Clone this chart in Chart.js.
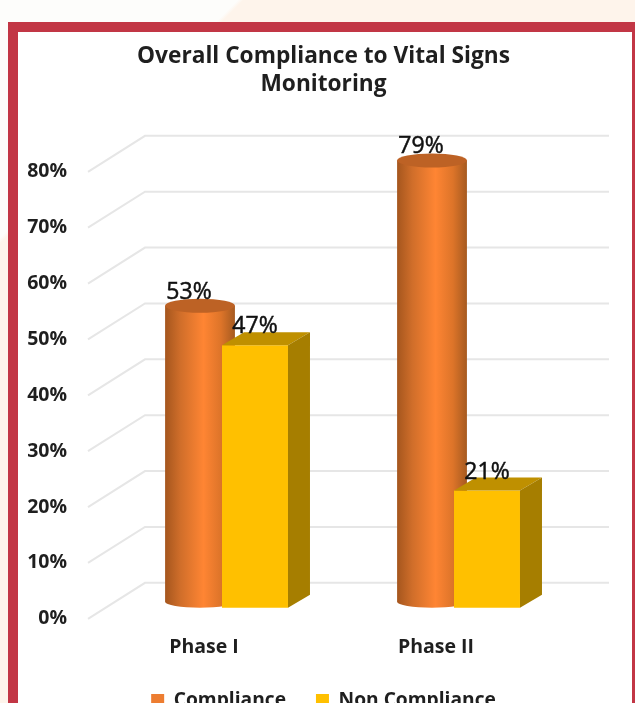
<!DOCTYPE html>
<html><head><meta charset="utf-8">
<script src="https://cdn.jsdelivr.net/npm/chart.js@4"></script>
<style>
html,body{margin:0;padding:0;width:635px;height:703px;overflow:hidden;
 background:linear-gradient(135deg,#fdfdfb 17.8%,#fef4eb 18.2%);}
#panel{position:absolute;left:8px;top:22px;width:614px;height:720px;border:10px solid #C23645;background:#fff;}
#c{position:absolute;left:0;top:0;filter:blur(0.6px);}
</style></head><body>
<div id="panel"><canvas id="c" width="611" height="688"></canvas></div>
<script>
const categories = ['Phase I', 'Phase II'];
const compliance = [53, 79];
const nonCompliance = [47, 21];
const titleLines = ['Overall Compliance to Vital Signs', 'Monitoring'];
const legendColors = ['#ED7D31', '#FFC000'];
const FONT = '"Open Sans", "Noto Sans", sans-serif';
const TEXT = '#1f1f1f';
const depth = {x: 57, y: -36};
const catPct = 0.474;
const shifts = [{x: 23.5, y: -17}, {x: 23.5, y: -11}];
const labelOff = [{x: -11, y: -13.5}, {x: 0, y: -18.5}];

function cylGrad(ctx, cx, half) {
  const g = ctx.createLinearGradient(cx - half, 0, cx + half, 0);
  g.addColorStop(0, '#A5561E');
  g.addColorStop(0.22, '#D06E2A');
  g.addColorStop(0.55, '#FF8533');
  g.addColorStop(0.8, '#DD7429');
  g.addColorStop(1, '#A65A20');
  return g;
}
const cylinderFill = c => {
  if (c.type !== 'data') return legendColors[0];
  const x = c.chart.scales.x;
  const step = x.getPixelForTick(1) - x.getPixelForTick(0);
  const seg = step * catPct / 2;
  return cylGrad(c.chart.ctx, x.getPixelForTick(c.dataIndex) - seg / 2, seg * 1.27 / 2);
};

function drawDatasetShifted(chart, index) {
  const {ctx} = chart;
  const meta = chart.getDatasetMeta(index);
  const s = shifts[index];
  ctx.save();
  ctx.translate(s.x, s.y);
  if (index === 0) {
    meta.data.forEach(el => {
      ctx.fillStyle = cylGrad(ctx, el.x, el.width / 2);
      ctx.beginPath();
      ctx.ellipse(el.x, el.base, el.width / 2, 6, 0, 0, Math.PI * 2);
      ctx.fill();
    });
  }
  meta.controller.draw();
  meta.data.forEach(el => {
    const l = el.x - el.width / 2, r = el.x + el.width / 2;
    if (index === 0) {
      ctx.fillStyle = '#BD6225';
      ctx.beginPath();
      ctx.ellipse(el.x, el.y, el.width / 2, 7, 0, 0, Math.PI * 2);
      ctx.fill();
    } else {
      const dx = 22, dy = -13;
      ctx.fillStyle = '#BF9000';
      ctx.beginPath();
      ctx.moveTo(l, el.y); ctx.lineTo(r, el.y);
      ctx.lineTo(r + dx, el.y + dy); ctx.lineTo(l + dx, el.y + dy);
      ctx.closePath(); ctx.fill();
      ctx.fillStyle = '#A67E00';
      ctx.beginPath();
      ctx.moveTo(r, el.y); ctx.lineTo(r + dx, el.y + dy);
      ctx.lineTo(r + dx, el.base + dy); ctx.lineTo(r, el.base);
      ctx.closePath(); ctx.fill();
    }
  });
  ctx.restore();
}

const plugin3d = {
  id: 'plugin3d',
  beforeDatasetsDraw(chart) {
    const {ctx, scales: {y}, chartArea: a} = chart;
    ctx.save();
    ctx.lineWidth = 2;
    ctx.strokeStyle = '#e6e6e6';
    y.ticks.forEach(t => {
      const py = y.getPixelForValue(t.value);
      ctx.beginPath();
      ctx.moveTo(a.left, py);
      ctx.lineTo(a.left + depth.x, py + depth.y);
      ctx.lineTo(a.right + depth.x, py + depth.y);
      ctx.stroke();
    });
    ctx.restore();
  },
  beforeDatasetDraw() { return false; },
  afterDatasetsDraw(chart) {
    drawDatasetShifted(chart, 0);
    drawDatasetShifted(chart, 1);
    const {ctx} = chart;
    ctx.save();
    ctx.font = '23px ' + FONT;
    ctx.fillStyle = '#111';
    ctx.strokeStyle = '#111';
    ctx.lineWidth = 0.5;
    ctx.textAlign = 'center';
    ctx.textBaseline = 'middle';
    [0, 1].forEach(i => {
      chart.getDatasetMeta(i).data.forEach((el, k) => {
        const v = chart.data.datasets[i].data[k];
        const tx = el.x + shifts[i].x + labelOff[i].x, ty = el.y + shifts[i].y + labelOff[i].y;
        ctx.fillText(v + '%', tx, ty);
        ctx.strokeText(v + '%', tx, ty);
      });
    });
    ctx.restore();
  }
};

new Chart(document.getElementById('c'), {
  type: 'bar',
  data: {
    labels: categories,
    datasets: [
      {label: 'Compliance', data: compliance, backgroundColor: cylinderFill, barPercentage: 1.27, categoryPercentage: catPct},
      {label: 'Non Compliance', data: nonCompliance, backgroundColor: '#FFC000', barPercentage: 1.2, categoryPercentage: catPct}
    ]
  },
  options: {
    responsive: false,
    animation: false,
    plugins: {
      tooltip: {enabled: false},
      title: {
        display: true, text: titleLines, color: TEXT,
        font: {family: FONT, size: 22.7, weight: 'bold', lineHeight: 1.23},
        padding: {top: 11, bottom: 73}
      },
      legend: {
        position: 'bottom',
        labels: {
          color: TEXT, boxWidth: 13, boxHeight: 13, padding: 30,
          font: {family: FONT, size: 19.2, weight: 'bold'},
          generateLabels(chart) {
            const items = Chart.defaults.plugins.legend.labels.generateLabels(chart);
            items.forEach((it, i) => { it.fillStyle = legendColors[i]; it.lineWidth = 0; });
            return items;
          }
        }
      }
    },
    scales: {
      x: {
        grid: {display: false, drawTicks: false}, border: {display: false},
        ticks: {color: TEXT, padding: 17, font: {family: FONT, size: 19.5, weight: 'bold'}},
        afterFit(s) { s.height = 42; }
      },
      y: {
        min: 0, max: 80,
        grid: {display: false, drawTicks: false}, border: {display: false},
        ticks: {stepSize: 10, color: TEXT, padding: 21, font: {family: FONT, size: 19.5, weight: 'bold'}, callback: v => v + '%'},
        afterFit(s) { s.width = 70; }
      },
      spacer: {
        type: 'linear', position: 'right', display: true,
        grid: {display: false, drawTicks: false}, border: {display: false},
        ticks: {display: false},
        afterFit(s) { s.width = 77; }
      }
    }
  },
  plugins: [plugin3d]
});
</script>
</body></html>
